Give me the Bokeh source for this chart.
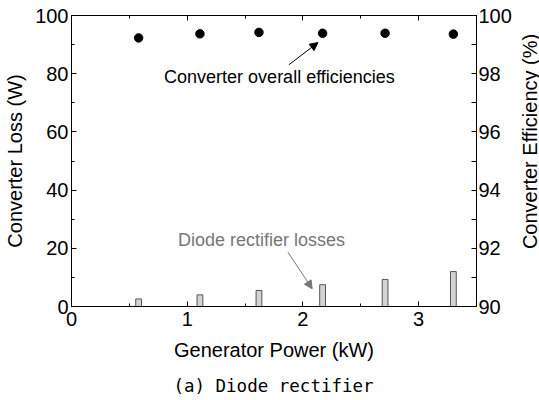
import math
from bokeh.plotting import figure
from bokeh.layouts import row, column
from bokeh.models import Range1d, LinearAxis, Label, Arrow, NormalHead, FixedTicker, CustomJSTickFormatter
from bokeh.core.properties import value
from bokeh.embed import file_html
from bokeh.resources import INLINE

# Data
power_kw = [0.58, 1.11, 1.62, 2.17, 2.71, 3.30]
diode_loss_w = [2.6, 4.0, 5.5, 7.5, 9.3, 12.0]
efficiency_pct = [99.23, 99.37, 99.42, 99.39, 99.39, 99.36]

x_ticks = [0, 1, 2, 3]
loss_ticks = [0, 20, 40, 60, 80, 100]
eff_ticks = [90, 92, 94, 96, 98, 100]

right_axis_title = "Converter Efficiency (%)"
caption = "(a) Diode rectifier"

FONT = "Liberation Sans"
MAIN_H = 372

p = figure(width=514, height=MAIN_H, output_backend="svg", toolbar_location=None,
           x_range=Range1d(0, 3.5), y_range=Range1d(0, 100),
           min_border_left=71, min_border_right=36, min_border_top=15, min_border_bottom=66)
p.outline_line_color = "black"
p.outline_line_width = 1
p.grid.visible = False
p.background_fill_color = "white"
p.border_fill_color = "white"

p.extra_y_ranges = {"eff": Range1d(90, 100)}

# Bars
p.vbar(x=power_kw, top=diode_loss_w, bottom=0, width=0.05,
       fill_color="#d3d3d3", line_color="#555555", line_width=1)
# Efficiency points
p.scatter(x=power_kw, y=efficiency_pct, y_range_name="eff", size=8.5,
          fill_color="black", line_color="black")

def style_axis(ax, label_size="20px"):
    ax.major_tick_in = 5
    ax.major_tick_out = 0
    ax.minor_tick_in = 3
    ax.minor_tick_out = 0
    ax.axis_line_color = "black"
    ax.major_label_text_font = FONT
    ax.major_label_text_font_size = label_size
    ax.major_label_text_color = "black"
    ax.axis_label_text_font = FONT
    ax.axis_label_text_font_size = "20px"
    ax.axis_label_text_font_style = "normal"
    ax.axis_label_text_color = "black"

# Bottom x axis
xa = p.xaxis[0]
xa.ticker = FixedTicker(ticks=x_ticks, minor_ticks=[0.5, 1.5, 2.5, 3.5])
xa.axis_label = "Generator Power (kW)"
style_axis(xa)
xa.major_label_standoff = 5
xa.axis_label_standoff = 10

# Left y axis
ya = p.yaxis[0]
ya.ticker = FixedTicker(ticks=loss_ticks, minor_ticks=[10, 30, 50, 70, 90])
ya.axis_label = "Converter Loss (W)"
style_axis(ya)
ya.major_label_standoff = 3
ya.axis_label_standoff = 6

# Right y axis (its title is drawn in a narrow side figure so it reads bottom-to-top)
ra = LinearAxis(y_range_name="eff", ticker=FixedTicker(ticks=eff_ticks, minor_ticks=[91, 93, 95, 97, 99]))
style_axis(ra)
ra.minor_tick_in = 5
ra.major_label_standoff = 2
p.add_layout(ra, "right")

# Top axis (ticks only)
ta = LinearAxis(ticker=FixedTicker(ticks=x_ticks, minor_ticks=[0.5, 1.5, 2.5, 3.5]),
                formatter=CustomJSTickFormatter(code="return ''"))
style_axis(ta)
ta.major_label_text_font_size = "0px"
ta.major_label_standoff = 0
p.add_layout(ta, "above")

# Annotations
p.add_layout(Label(x=0.8, y=79, text="Converter overall efficiencies",
                   text_font=FONT, text_font_size="18px", text_color="black",
                   text_baseline="middle"))
p.add_layout(Arrow(x_start=1.88, y_start=83.1, x_end=2.13, y_end=90.7,
                   line_color="black", line_width=1,
                   end=NormalHead(size=8, fill_color="black", line_color="black")))
p.add_layout(Label(x=0.92, y=23, text="Diode rectifier losses",
                   text_font=FONT, text_font_size="18px", text_color="#777777",
                   text_baseline="middle"))
p.add_layout(Arrow(x_start=1.87, y_start=18.7, x_end=2.08, y_end=6.1,
                   line_color="#777777", line_width=1,
                   end=NormalHead(size=8, fill_color="#777777", line_color="#777777")))

def blank_fig(w, h, xmax, ymax):
    f = figure(width=w, height=h, output_backend="svg", toolbar_location=None,
               x_range=Range1d(0, xmax), y_range=Range1d(0, ymax),
               min_border_left=0, min_border_right=0, min_border_top=0, min_border_bottom=0)
    f.axis.visible = False
    f.grid.visible = False
    f.outline_line_color = None
    f.background_fill_color = "white"
    f.border_fill_color = "white"
    return f

# Side figure holding the right axis title
p2 = blank_fig(25, MAIN_H, 1, MAIN_H)
p2.text(x=[0.6], y=[MAIN_H - 161], text=[right_axis_title], angle=math.pi / 2,
        text_font=value(FONT), text_font_size="20px", text_color="black",
        text_align="center", text_baseline="middle")

# Caption figure
CAP_H = 400 - MAIN_H
p3 = blank_fig(539, CAP_H, 539, CAP_H)
p3.text(x=[273], y=[CAP_H - 13], text=[caption],
        text_font=value("DejaVu Sans Mono"), text_font_size="17.5px", text_color="black",
        text_align="center", text_baseline="middle")

open("out.html", "w").write(file_html(column(row(p, p2), p3), INLINE))
